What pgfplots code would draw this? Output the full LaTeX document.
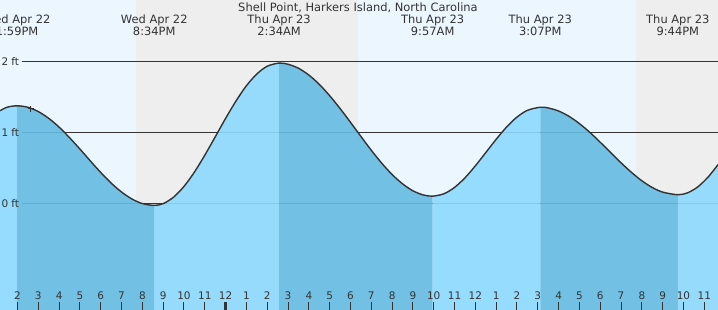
\documentclass[border=0pt]{standalone}
\usepackage{fontspec}
\setmainfont{DejaVu Sans}
\usepackage{pgfplots}
\usepackage{pgfplotstable}
\pgfplotsset{compat=1.18}
\definecolor{dayc}{RGB}{235,246,255}
\definecolor{nightc}{RGB}{238,238,238}
\definecolor{wlight}{RGB}{141,218,254}
\definecolor{wdark}{RGB}{101,188,227}
\definecolor{tc}{RGB}{51,51,51}
\pgfplotstableread{
h ft
13.159 1.31
13.5 1.36
13.98 1.38
14.5 1.359
15 1.299
15.5 1.204
16 1.080
16.5 0.932
17 0.772
17.5 0.605
18 0.443
18.5 0.294
19 0.168
19.5 0.070
20 0.006
20.57 -0.02
21 0.005
21.5 0.096
22 0.247
22.5 0.448
23 0.686
23.5 0.943
24 1.203
24.5 1.448
25 1.662
25.5 1.827
26 1.936
26.57 1.98
27 1.964
27.5 1.908
28 1.812
28.5 1.682
29 1.522
29.5 1.342
30 1.148
30.5 0.950
31 0.755
31.5 0.574
32 0.414
32.5 0.284
33 0.185
33.5 0.127
33.95 0.11
34.5 0.145
35 0.233
35.5 0.367
36 0.536
36.5 0.722
37 0.909
37.5 1.081
38 1.221
38.5 1.316
39.12 1.36
39.5 1.350
40 1.307
40.5 1.232
41 1.130
41.5 1.007
42 0.868
42.5 0.723
43 0.579
43.5 0.445
44 0.326
44.5 0.232
45 0.167
45.73 0.13
46.2 0.157
46.7 0.243
47.2 0.384
47.66 0.553
}\tide
\pgfplotsset{
  water/.style n args={3}{fill=#1, fill opacity=0.9, draw=none, smooth, restrict x to domain=#2:#3},
}
\begin{document}
\begin{tikzpicture}
\begin{scope}
\clip (0,0) rectangle (718bp,310bp);
\begin{axis}[at={(0,0)}, anchor=south west,
  width=718bp, height=310bp, scale only axis,
  xmin=13.159, xmax=47.66, ymin=-1.490, ymax=2.867,
  axis on top,
  axis line style={draw=none},
  ytick=\empty,
  xtick={14,...,47},
  xticklabels={2,3,4,5,6,7,8,9,10,11,12,1,2,3,4,5,6,7,8,9,10,11,12,1,2,3,4,5,6,7,8,9,10,11},
  xtick pos=lower,
  tick align=inside,
  major tick length=8bp,
  tick style={color=tc, line width=1bp},
  extra x ticks={24},
  extra x tick labels={},
  extra x tick style={tick style={color=tc, line width=2.7bp}},
  /pgf/number format/assume math mode=true,
  xticklabel style={anchor=base, yshift=10.7bp, text=tc, font=\fontsize{10.5}{12}\selectfont, inner sep=0pt},
  clip=false,
]
% day / night background
\addplot[fill=dayc, draw=none] coordinates {(13.159,-1.49) (13.159,2.867) (19.69,2.867) (19.69,-1.49)};
\addplot[fill=nightc, draw=none] coordinates {(19.69,-1.49) (19.69,2.867) (30.36,2.867) (30.36,-1.49)};
\addplot[fill=dayc, draw=none] coordinates {(30.36,-1.49) (30.36,2.867) (43.72,2.867) (43.72,-1.49)};
\addplot[fill=nightc, draw=none] coordinates {(43.72,-1.49) (43.72,2.867) (47.66,2.867) (47.66,-1.49)};
% level lines
\addplot[tc, line width=1bp] coordinates {(14.216,2) (47.66,2)};
\addplot[tc, line width=1bp] coordinates {(14.216,1) (47.66,1)};
\addplot[tc, line width=1bp] coordinates {(14.216,0) (47.66,0)};
% water
\addplot[water={wlight}{13.159}{13.98}] table[x=h, y=ft] {\tide} -- (axis cs:13.98,-1.49) -- (axis cs:13.159,-1.49);
\addplot[water={wdark}{13.98}{20.57}] table[x=h, y=ft] {\tide} -- (axis cs:20.57,-1.49) -- (axis cs:13.98,-1.49);
\addplot[water={wlight}{20.57}{26.57}] table[x=h, y=ft] {\tide} -- (axis cs:26.57,-1.49) -- (axis cs:20.57,-1.49);
\addplot[water={wdark}{26.57}{33.95}] table[x=h, y=ft] {\tide} -- (axis cs:33.95,-1.49) -- (axis cs:26.57,-1.49);
\addplot[water={wlight}{33.95}{39.12}] table[x=h, y=ft] {\tide} -- (axis cs:39.12,-1.49) -- (axis cs:33.95,-1.49);
\addplot[water={wdark}{39.12}{45.73}] table[x=h, y=ft] {\tide} -- (axis cs:45.73,-1.49) -- (axis cs:39.12,-1.49);
\addplot[water={wlight}{45.73}{47.66}] table[x=h, y=ft] {\tide} -- (axis cs:47.66,-1.49) -- (axis cs:45.73,-1.49);
\addplot[tc, line width=1.4bp, smooth] table[x=h, y=ft] {\tide};
\addplot[only marks, mark=+, mark size=3bp, tc, line width=0.9bp] coordinates {(14.63,1.34)};
% labels
\begin{scope}[every node/.style={inner sep=0pt, text=tc, font=\fontsize{10.5}{12}\selectfont}]
\node[anchor=east] at (axis cs:14.086,2) {2 ft};
\node[anchor=east] at (axis cs:14.086,1) {1 ft};
\node[anchor=east] at (axis cs:14.086,0) {0 ft};
\end{scope}
\begin{scope}[every node/.style={inner sep=0pt, text=tc, anchor=base, font=\fontsize{11.5}{13}\selectfont}]
\node at (axis cs:30.36,2.711) {Shell Point, Harkers Island, North Carolina};
\node at (axis cs:13.98,2.532) {Wed Apr 22};
\node at (axis cs:13.98,2.367) {1:59PM};
\node at (axis cs:20.57,2.532) {Wed Apr 22};
\node at (axis cs:20.57,2.367) {8:34PM};
\node at (axis cs:26.57,2.532) {Thu Apr 23};
\node at (axis cs:26.57,2.367) {2:34AM};
\node at (axis cs:33.95,2.532) {Thu Apr 23};
\node at (axis cs:33.95,2.367) {9:57AM};
\node at (axis cs:39.12,2.532) {Thu Apr 23};
\node at (axis cs:39.12,2.367) {3:07PM};
\node at (axis cs:45.73,2.532) {Thu Apr 23};
\node at (axis cs:45.73,2.367) {9:44PM};
\end{scope}
\end{axis}
\end{scope}
\pgfresetboundingbox
\useasboundingbox (0,0) rectangle (718bp,310bp);
\end{tikzpicture}
\end{document}
